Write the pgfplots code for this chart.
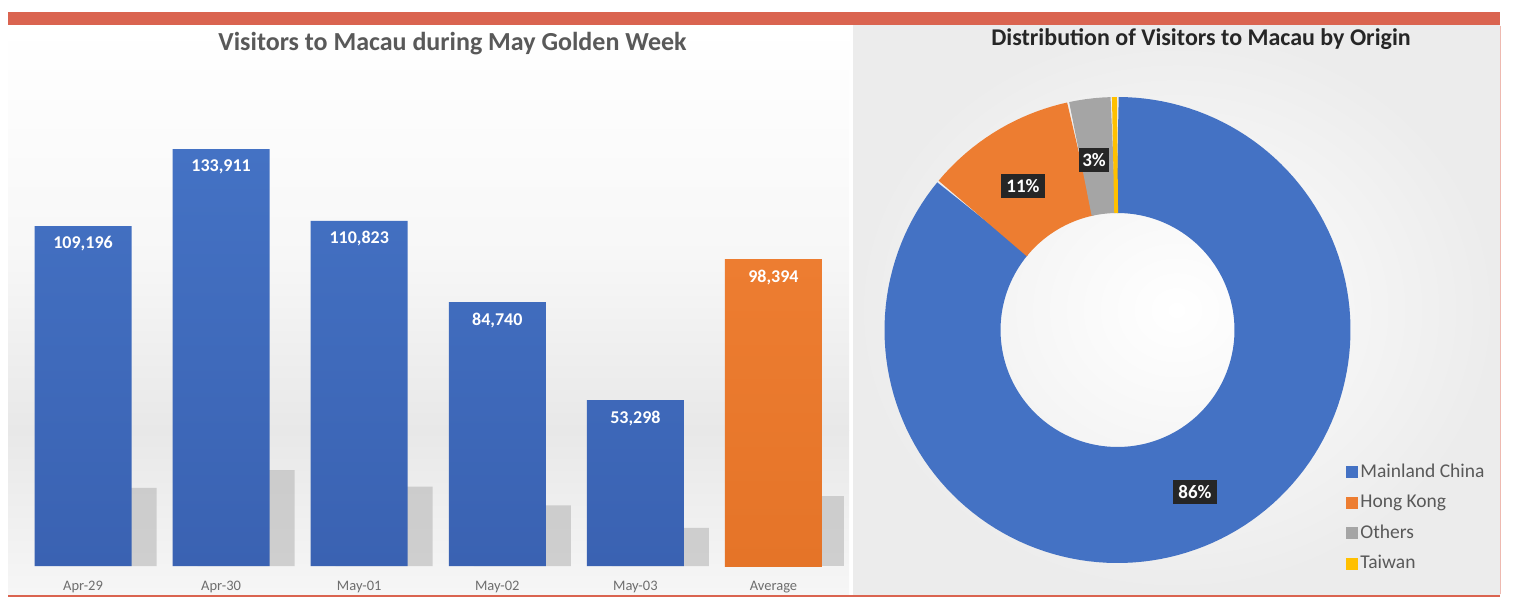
\documentclass[border=0pt]{standalone}
\usepackage{pgfplots}
\pgfplotsset{compat=1.18}
\usepackage{pgfplotstable}
\usepackage{fontspec}
\setmainfont{Carlito}

\definecolor{barblue}{RGB}{68,114,196}
\definecolor{barbluedark}{RGB}{58,98,178}
\definecolor{barorange}{RGB}{237,125,49}
\definecolor{barorangedark}{RGB}{229,116,40}
\definecolor{donutblue}{RGB}{68,114,196}
\definecolor{donutgray}{RGB}{165,165,165}
\definecolor{donutyellow}{RGB}{255,192,0}
\definecolor{framered}{RGB}{218,100,80}
\definecolor{titlegray}{RGB}{89,89,89}
\definecolor{ticklabelgray}{RGB}{110,110,110}
\definecolor{lblbox}{RGB}{38,38,38}

% visitors per day
\pgfplotstableread{
x v
0 109196
1 133911
2 110823
3 84740
4 53298
}\daily
\pgfplotstableread{
x v
5 98394
}\average

\begin{document}
\begin{tikzpicture}[x=1pt,y=1pt]
% canvas and panel backgrounds
\fill[white] (0,0) rectangle (1514,598);
\shade[top color=white,bottom color=gray!6] (8,348) rectangle (849,572);
\shade[top color=gray!6,bottom color=gray!18] (8,168) rectangle (849,348);
\shade[top color=gray!18,bottom color=gray!7] (8,4) rectangle (849,168);
\shade[inner color=white,outer color=gray!15] (853,4) rectangle (1500,572);
\fill[framered] (8,573) rectangle (1500,586);
\fill[framered] (8,1.5) rectangle (1500,3.5);
\draw[framered!45,line width=1pt] (1500,4) -- (1500,572);

\node[font=\fontsize{26}{30}\selectfont\bfseries,text=titlegray,anchor=base]
  at (452.5,547) {Visitors to Macau during May Golden Week};
\node[font=\fontsize{24}{28}\selectfont\bfseries,text=lblbox,anchor=base]
  at (1201,552) {Distribution of Visitors to Macau by Origin};

% bar chart
\begin{axis}[
    at={(14pt,32pt)}, anchor=south west,
    scale only axis, width=828.5pt, height=467pt,
    xmin=-0.5, xmax=5.5, ymin=0, ymax=150000,
    ybar, bar width=97pt,
    axis line style={draw=none},
    ytick=\empty,
    xtick={0,...,5},
    xticklabels={Apr-29,Apr-30,May-01,May-02,May-03,Average},
    tick style={draw=none},
    xticklabel style={font=\fontsize{14.5}{17}\selectfont,text=ticklabelgray,yshift=-7pt},
    clip=false,
    nodes near coords={\pgfmathprintnumber[assume math mode=true,fixed,precision=0,1000 sep={,}]{\pgfplotspointmeta}},
    nodes near coords align={below},
    every node near coord/.append style={text=white,font=\fontsize{18}{21}\selectfont\bfseries,yshift=-7pt},
  ]
  % soft shadows behind the bars
  \addplot[fill=gray!60,draw=none,opacity=0.55,bar shift=25pt,nodes near coords=]
    table[x=x,y expr=0.23*\thisrow{v}] {\daily};
  \addplot[fill=gray!60,draw=none,opacity=0.55,bar shift=22pt,nodes near coords=]
    table[x=x,y expr=0.23*\thisrow{v}] {\average};
  \addplot[draw=none,top color=barblue,bottom color=barbluedark,bar shift=0pt]
    table[x=x,y=v] {\daily};
  \addplot[draw=none,top color=barorange,bottom color=barorangedark,bar shift=0pt]
    table[x=x,y=v] {\average};
\end{axis}

% doughnut: shares 86.0, 10.6, 3.0, 0.4 (percent), clockwise from the top
\begin{axis}[
    at={(853pt,4pt)}, anchor=south west,
    x=1pt, y=1pt,
    xmin=-264.5, xmax=382.5, ymin=-264, ymax=304,
    hide axis, clip=false,
    legend style={at={(0.757,0.236)},anchor=north west,draw=none,fill=none,
      font=\fontsize{19.5}{22}\selectfont,text=titlegray,
      row sep=10.5pt,
      nodes={inner sep=1pt,text height=14pt,text depth=4pt}},
    legend cell align=left,
  ]
  \addlegendimage{legend image code/.code={\fill[donutblue] (0pt,-5.5pt) rectangle (11pt,5.5pt); \path (13pt,0pt);}}
  \addlegendentry{Mainland China}
  \addlegendimage{legend image code/.code={\fill[barorange] (0pt,-5.5pt) rectangle (11pt,5.5pt); \path (13pt,0pt);}}
  \addlegendentry{Hong Kong}
  \addlegendimage{legend image code/.code={\fill[donutgray] (0pt,-5.5pt) rectangle (11pt,5.5pt); \path (13pt,0pt);}}
  \addlegendentry{Others}
  \addlegendimage{legend image code/.code={\fill[donutyellow] (0pt,-5.5pt) rectangle (11pt,5.5pt); \path (13pt,0pt);}}
  \addlegendentry{Taiwan}

  \addplot[draw=donutblue,line width=116pt,domain=0:86.0,samples=140,variable=\t,forget plot]
    ({175*sin(3.6*\t)},{175*cos(3.6*\t)});
  \addplot[draw=barorange,line width=116pt,domain=86.0:96.6,samples=20,variable=\t,forget plot]
    ({175*sin(3.6*\t)},{175*cos(3.6*\t)});
  \addplot[draw=donutgray,line width=116pt,domain=96.6:99.6,samples=6,variable=\t,forget plot]
    ({175*sin(3.6*\t)},{175*cos(3.6*\t)});
  \addplot[draw=donutyellow,line width=116pt,domain=99.6:100,samples=3,variable=\t,forget plot]
    ({175*sin(3.6*\t)},{175*cos(3.6*\t)});

  \node[fill=lblbox,text=white,font=\fontsize{19}{21}\selectfont\bfseries,inner xsep=5pt,inner ysep=5pt]
    at (axis cs:77.5,-162) {86\%};
  \node[fill=lblbox,text=white,font=\fontsize{19}{21}\selectfont\bfseries,inner xsep=5pt,inner ysep=5pt]
    at (axis cs:-94.5,144) {11\%};
  \node[fill=lblbox,text=white,font=\fontsize{19}{21}\selectfont\bfseries,inner xsep=3pt,inner ysep=5pt]
    at (axis cs:-23.5,170) {3\%};
\end{axis}
\end{tikzpicture}
\end{document}
